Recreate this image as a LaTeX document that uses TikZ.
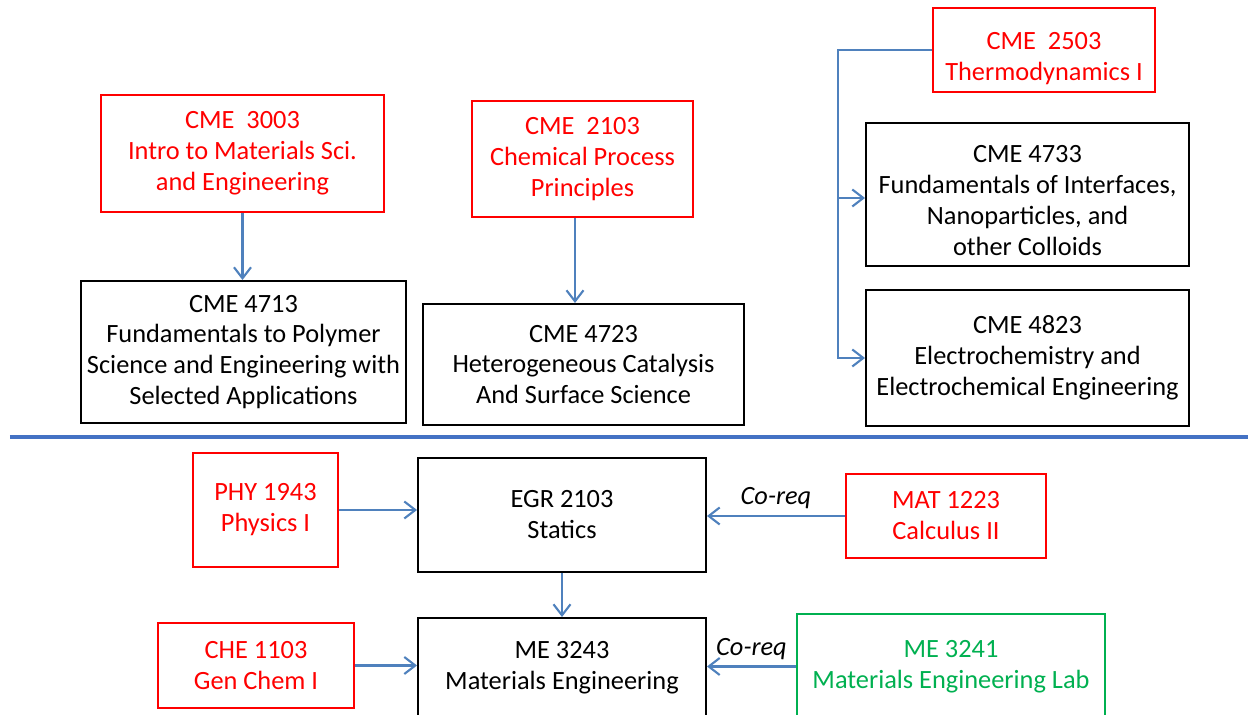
\documentclass[tikz,border=0pt]{standalone}
\usepackage{fontspec}
\setmainfont{Carlito}
\usetikzlibrary{arrows.meta}
\definecolor{boxred}{HTML}{FF0000}
\definecolor{boxgreen}{HTML}{00B050}
\definecolor{arrowblue}{HTML}{4F81BD}
\definecolor{ruleblue}{HTML}{4472C4}
\begin{document}
\begin{tikzpicture}
    \tikzstyle{course} = [draw, line width=1.1pt, align=center, inner sep=2pt,
      font=\fontsize{15}{17.6}\selectfont]
    \tikzstyle{prereq} = [course, draw=boxred, text=boxred]
    \tikzstyle{target} = [course, draw=black, text=black]
    \tikzstyle{lab} = [course, draw=boxgreen, text=boxgreen]
    \tikzstyle{arr} = [draw=arrowblue, line width=1.2pt, -{Straight Barb[length=2.2mm,width=3.4mm]}]
    \tikzstyle{coreq} = [font=\fontsize{15}{17.6}\selectfont\itshape, above]
    \useasboundingbox (0,0) rectangle (24.96,14.3);
    % upper part
    \node[prereq, minimum width=5.66cm, minimum height=2.34cm] (cme3003) at (4.85,11.23)
      {CME\ \ 3003\\Intro to Materials Sci.\\and Engineering};
    \node[prereq, minimum width=4.42cm, minimum height=2.32cm] (cme2103) at (11.65,11.12)
      {CME\ \ 2103\\Chemical Process\\Principles};
    \node[prereq, minimum width=4.44cm, minimum height=1.68cm] (cme2503) at (20.88,13.30)
      {\rule{0pt}{20pt}CME\ \ 2503\\Thermodynamics I};
    \node[target, minimum width=6.46cm, minimum height=2.86cm] (cme4733) at (20.55,10.41)
      {\rule{0pt}{17pt}CME 4733\\Fundamentals of Interfaces,\\Nanoparticles, and\\other Colloids};
    \node[target, minimum width=6.46cm, minimum height=2.72cm] (cme4823) at (20.55,7.14)
      {CME 4823\\Electrochemistry and\\Electrochemical Engineering};
    \node[target, minimum width=6.5cm, minimum height=2.84cm] (cme4713) at (4.87,7.26)
      {CME 4713\\Fundamentals to Polymer\\Science and Engineering with\\Selected Applications};
    \node[target, minimum width=6.42cm, minimum height=2.42cm] (cme4723) at (11.67,7.01)
      {CME 4723\\Heterogeneous Catalysis\\And Surface Science};
    \coordinate (brk) at (16.76,13.30);
    \draw[arr] (cme3003.south) -- (cme3003.south |- cme4713.north);
    \draw[arr] ([xshift=-0.15cm]cme2103.south) -- ([xshift=-0.15cm]cme2103.south |- cme4723.north);
    \draw[arr] (cme2503.west) -- (brk) |- ([yshift=-0.07cm]cme4733.west);
    \draw[arr] (brk) |- (cme4823.west);
    % separator
    \draw[ruleblue, line width=2.3pt] (0.2,5.56) -- (24.96,5.56);
    % lower part
    \node[prereq, minimum width=2.9cm, minimum height=2.28cm] (phy1943) at (5.31,4.10)
      {PHY 1943\\Physics I};
    \node[target, minimum width=5.76cm, minimum height=2.28cm] (egr2103) at (11.24,4.00)
      {EGR 2103\\Statics};
    \node[prereq, minimum width=4.0cm, minimum height=1.68cm] (mat1223) at (18.92,3.98)
      {MAT 1223\\Calculus II};
    \node[prereq, minimum width=3.92cm, minimum height=1.70cm] (che1103) at (5.12,0.99)
      {CHE 1103\\Gen Chem I};
    \node[target, minimum width=5.76cm, minimum height=2.0cm] (me3243) at (11.24,0.94)
      {ME 3243\\Materials Engineering};
    \node[lab, minimum width=6.16cm, minimum height=2.1cm] (me3241) at (19.02,0.97)
      {ME 3241\\Materials Engineering Lab};
    \draw[arr] (phy1943.east) -- (phy1943.east -| egr2103.west);
    \draw[arr] (mat1223.west) -- (mat1223.west -| egr2103.east)
      node[coreq, midway] {Co-req};
    \draw[arr] (egr2103.south) -- (me3243.north);
    \draw[arr] (che1103.east) -- (che1103.east -| me3243.west);
    \draw[arr] (me3241.west) -- (me3241.west -| me3243.east)
      node[coreq, midway] {Co-req};
\end{tikzpicture}
\end{document}
